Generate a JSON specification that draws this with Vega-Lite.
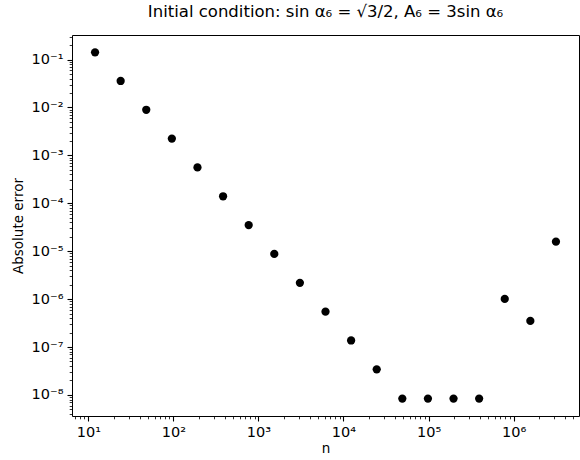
{
  "$schema": "https://vega.github.io/schema/vega-lite/v6.json",
  "width": 507,
  "height": 381,
  "autosize": {"type": "none"},
  "padding": {"left": 72, "top": 35, "right": 1, "bottom": 44},
  "background": "white",
  "config": {
    "font": "DejaVu Sans",
    "view": {"stroke": "black", "strokeWidth": 1}
  },
  "title": {
    "text": "Initial condition: sin α₆ = √3/2, A₆ = 3sin α₆",
    "font": "DejaVu Sans",
    "fontSize": 16.5,
    "fontWeight": "normal",
    "color": "black",
    "anchor": "middle",
    "offset": 8
  },
  "data": {
    "values": [
      {"n": 12, "err": 0.14159},
      {"n": 24, "err": 0.03576},
      {"n": 48, "err": 0.008966},
      {"n": 96, "err": 0.002243},
      {"n": 192, "err": 0.0005607},
      {"n": 384, "err": 0.0001402},
      {"n": 768, "err": 3.504e-5},
      {"n": 1536, "err": 8.761e-6},
      {"n": 3072, "err": 2.19e-6},
      {"n": 6144, "err": 5.476e-7},
      {"n": 12288, "err": 1.369e-7},
      {"n": 24576, "err": 3.42e-8},
      {"n": 49152, "err": 8.4e-9},
      {"n": 98304, "err": 8.4e-9},
      {"n": 196608, "err": 8.4e-9},
      {"n": 393216, "err": 8.4e-9},
      {"n": 786432, "err": 1.01e-6},
      {"n": 1572864, "err": 3.5e-7},
      {"n": 3145728, "err": 1.58e-5}
    ]
  },
  "mark": {"type": "point", "filled": true, "color": "black", "opacity": 1, "size": 68},
  "encoding": {
    "x": {
      "field": "n",
      "type": "quantitative",
      "title": "n",
      "scale": {"type": "log", "domain": [6.43, 5870000], "nice": false, "zero": false},
      "axis": {
        "values": [7,8,9,10,20,30,40,50,60,70,80,90,100,200,300,400,500,600,700,800,900,1000,2000,3000,4000,5000,6000,7000,8000,9000,10000,20000,30000,40000,50000,60000,70000,80000,90000,100000,200000,300000,400000,500000,600000,700000,800000,900000,1000000,2000000,3000000,4000000,5000000],
        "labelExpr": "abs(log(datum.value)/LN10 - round(log(datum.value)/LN10)) < 1e-6 ? '10' + (round(log(datum.value)/LN10) < 0 ? '⁻' : '') + ['⁰','¹','²','³','⁴','⁵','⁶','⁷','⁸','⁹'][abs(round(log(datum.value)/LN10))] : ''",
        "grid": false,
        "domain": false,
        "tickColor": "black",
        "tickSize": {"condition": {"test": "abs(log(datum.value)/LN10 - round(log(datum.value)/LN10)) < 1e-6", "value": 5}, "value": 2.8},
        "tickWidth": {"condition": {"test": "abs(log(datum.value)/LN10 - round(log(datum.value)/LN10)) < 1e-6", "value": 1.1}, "value": 0.8},
        "labelFontSize": 14.5,
        "labelColor": "black",
        "labelPadding": 4,
        "labelFlush": false,
        "labelOverlap": false,
        "titleFontSize": 13.5,
        "titleFontWeight": "normal",
        "titleColor": "black",
        "titlePadding": 3
      }
    },
    "y": {
      "field": "err",
      "type": "quantitative",
      "title": "Absolute error",
      "scale": {"type": "log", "domain": [3.63e-9, 0.326], "nice": false, "zero": false},
      "axis": {
        "values": [4e-9,5e-9,6e-9,7e-9,8e-9,9e-9,1e-8,2e-8,3e-8,4e-8,5e-8,6e-8,7e-8,8e-8,9e-8,1e-7,2e-7,3e-7,4e-7,5e-7,6e-7,7e-7,8e-7,9e-7,1e-6,2e-6,3e-6,4e-6,5e-6,6e-6,7e-6,8e-6,9e-6,1e-5,2e-5,3e-5,4e-5,5e-5,6e-5,7e-5,8e-5,9e-5,1e-4,2e-4,3e-4,4e-4,5e-4,6e-4,7e-4,8e-4,9e-4,1e-3,2e-3,3e-3,4e-3,5e-3,6e-3,7e-3,8e-3,9e-3,1e-2,2e-2,3e-2,4e-2,5e-2,6e-2,7e-2,8e-2,9e-2,1e-1,2e-1,3e-1],
        "labelExpr": "abs(log(datum.value)/LN10 - round(log(datum.value)/LN10)) < 1e-6 ? '10' + (round(log(datum.value)/LN10) < 0 ? '⁻' : '') + ['⁰','¹','²','³','⁴','⁵','⁶','⁷','⁸','⁹'][abs(round(log(datum.value)/LN10))] : ''",
        "grid": false,
        "domain": false,
        "tickColor": "black",
        "tickSize": {"condition": {"test": "abs(log(datum.value)/LN10 - round(log(datum.value)/LN10)) < 1e-6", "value": 5}, "value": 2.8},
        "tickWidth": {"condition": {"test": "abs(log(datum.value)/LN10 - round(log(datum.value)/LN10)) < 1e-6", "value": 1.1}, "value": 0.8},
        "labelFontSize": 14.5,
        "labelColor": "black",
        "labelPadding": 4,
        "labelFlush": false,
        "labelOverlap": false,
        "titleFontSize": 13.5,
        "titleFontWeight": "normal",
        "titleColor": "black",
        "titlePadding": 6
      }
    }
  }
}
